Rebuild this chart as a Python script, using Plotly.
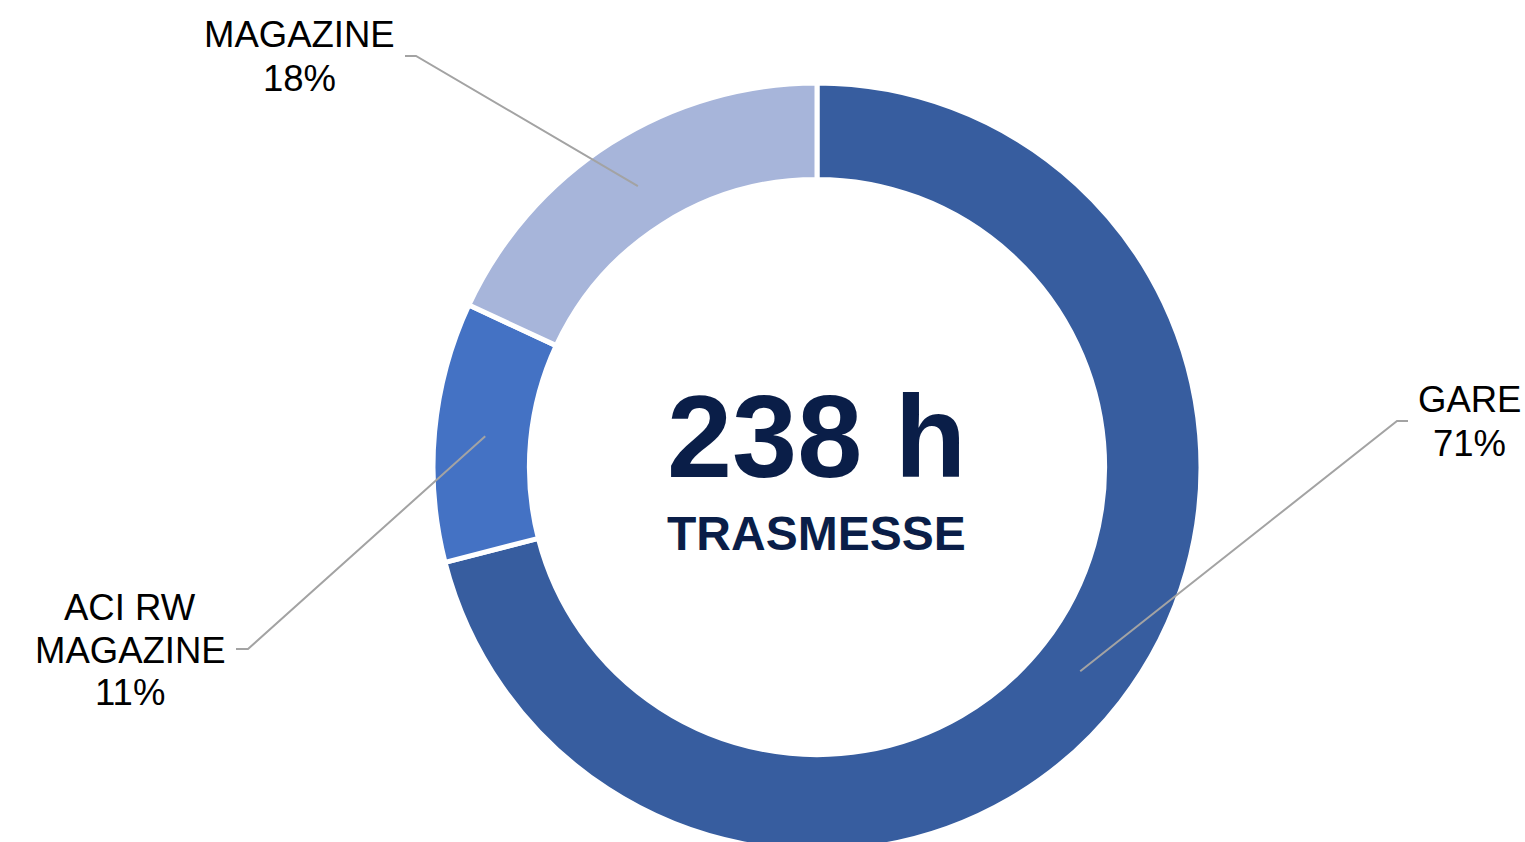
import math
import plotly.graph_objects as go

# dati
categorie = ["GARE", "ACI RW MAGAZINE", "MAGAZINE"]
etichette = [["GARE", "71%"], ["ACI RW", "MAGAZINE", "11%"], ["MAGAZINE", "18%"]]
ore = [169, 26, 43]
colori = ["#375D9F", "#4472C4", "#A7B5DA"]
totale_testo = "238 h"
sottotitolo = "TRASMESSE"

# la figura è più alta della finestra: la ciambella viene tagliata in basso come nell'originale
W, H = 1525, 900
# centro e raggio della ciambella (pixel)
cx, cy, r_out = 817, 467, 381
hole = 0.749
r_mid = r_out * (1 + hole) / 2
pad = 3  # plotly toglie ~3 px al raggio del dominio

# posizione delle etichette: (centro x, y delle righe, punto di piega, inizio tratto)
pos_etichette = [
    (1469, [399, 443], (1397, 421), (1408, 421)),
    (130, [607, 650, 692], (248, 649), (236, 649)),
    (299, [35, 78], (416, 56), (405, 56)),
]


def px(x, y):
    return x / W, 1 - y / H


fig = go.Figure()
half = r_out + pad
fig.add_trace(go.Pie(
    labels=categorie,
    values=ore,
    hole=hole,
    sort=False,
    direction="clockwise",
    rotation=0,
    marker=dict(colors=colori, line=dict(color="white", width=5)),
    textinfo="none",
    hoverinfo="label+percent",
    showlegend=False,
    domain=dict(x=[(cx - half) / W, (cx + half) / W],
                y=[1 - (cy + half) / H, 1 - (cy - half) / H]),
))

annotations = []
shapes = []
tot = sum(ore)
cum = 0
for i, v in enumerate(ore):
    # angolo medio della fetta, in senso orario dalle ore 12
    ang = 2 * math.pi * (cum + v / 2) / tot
    cum += v
    ex = cx + r_mid * math.sin(ang)
    ey = cy - r_mid * math.cos(ang)
    xc, ys, piega, inizio = pos_etichette[i]
    for testo, yy in zip(etichette[i], ys):
        xa, ya = px(xc, yy)
        annotations.append(dict(
            x=xa, y=ya, xref="paper", yref="paper", text=testo, showarrow=False,
            xanchor="center", yanchor="middle",
            font=dict(family="Liberation Sans, Arial", size=36.5, color="black"),
        ))
    p0 = px(*inizio)
    p1 = px(*piega)
    p2 = px(ex, ey)
    shapes.append(dict(
        type="path", xref="paper", yref="paper", layer="above",
        path=f"M {p0[0]},{p0[1]} L {p1[0]},{p1[1]} L {p2[0]},{p2[1]}",
        line=dict(color="#A3A3A3", width=2),
    ))

xa, ya = px(816, 437)
annotations.append(dict(
    x=xa, y=ya, xref="paper", yref="paper", text=f"<b>{totale_testo}</b>", showarrow=False,
    xanchor="center", yanchor="middle",
    font=dict(family="Liberation Sans, Arial", size=117, color="#0A1E48"),
))
xa, ya = px(816, 533)
annotations.append(dict(
    x=xa, y=ya, xref="paper", yref="paper", text=f"<b>{sottotitolo}</b>", showarrow=False,
    xanchor="center", yanchor="middle",
    font=dict(family="Liberation Sans, Arial", size=48, color="#0A1E48"),
))

fig.update_layout(
    width=W, height=H,
    margin=dict(l=0, r=0, t=0, b=0),
    paper_bgcolor="white",
    plot_bgcolor="white",
    annotations=annotations,
    shapes=shapes,
)

# niente margine e niente barre di scorrimento nella pagina
fig.write_html(
    "out.html",
    config={"displayModeBar": False},
    post_script="document.body.style.margin='0'; document.body.style.overflow='hidden';",
)
